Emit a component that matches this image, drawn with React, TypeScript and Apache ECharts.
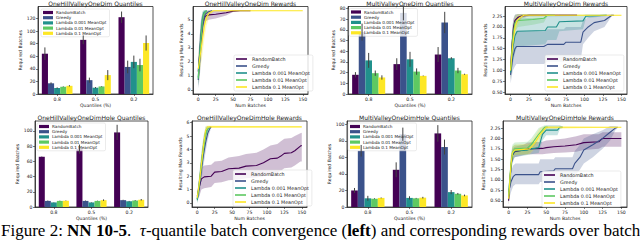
import React, { useEffect, useRef } from 'react';
import * as echarts from 'echarts';

const FONT = 'DejaVu Sans';
const METHODS = ['RandomBatch', 'Greedy', 'Lambda 0.001 MeanOpt', 'Lambda 0.01 MeanOpt', 'Lambda 0.1 MeanOpt'];
const COLORS = ['#440154', '#3b528b', '#21918c', '#5ec962', '#fde725'];
const QUANTILES = ['0.8', '0.5', '0.2'];
const REWARD_X_TICKS = [0, 25, 50, 75, 100, 125, 150];

// ---- Bar panels: mean and error per method (rows) and quantile (cols)
const ohvQuantMean = [[64, 86, 122], [17, 22, 43], [9.5, 10, 51], [11.5, 12, 46], [13, 30, 81]];
const ohvQuantErr = [[10, 7, 9], [1.5, 4, 10], [1, 1, 10], [0.5, 0.5, 10], [1, 8, 12]];
const ohvQuantTicks = [0, 20, 40, 60, 80, 100, 120];

const mvQuantMean = [[18, 28, 37], [58, 76, 67], [31.5, 32.5, 33.5], [19.5, 21, 22], [15.5, 17, 18.5]];
const mvQuantErr = [[2.5, 5.5, 7], [8, 7, 10], [7, 7, 1], [2.5, 3, 2.5], [2, 0.3, 0.5]];
const mvQuantTicks = [0, 10, 20, 30, 40, 50, 60, 70, 80];

const ohvhQuantMean = [[66, 76, 98], [8, 8, 9], [6, 6, 7.5], [8, 8, 8.5], [8.3, 9, 9.5]];
const ohvhQuantErr = [[0.3, 6, 10], [0.5, 0.5, 0.5], [0.3, 0.3, 0.5], [0.3, 0.3, 0.5], [0.3, 1, 1]];
const ohvhQuantTicks = [0, 20, 40, 60, 80, 100];

const mvhQuantMean = [[20, 45, 89], [68, 88, 72.5], [10.5, 11, 18], [10, 10.5, 16], [11, 11.3, 14]];
const mvhQuantErr = [[3, 9, 10], [7, 8, 9], [3, 2, 2.5], [0.5, 0.5, 1], [0.5, 1, 1]];
const mvhQuantTicks = [0, 20, 40, 60, 80, 100];

// ---- Reward panels: [numBatches, mean, lower, upper]
const ohvRandom = [[0, 1.3, 0.3, 2.3], [2, 2.5, 1.2, 3.8], [4, 3.8, 2.6, 5.0], [6, 4.6, 3.8, 5.4], [8, 5.0, 4.5, 5.5], [10, 5.25, 4.9, 5.6], [15, 5.35, 5.0, 5.65], [25, 5.4, 5.1, 5.68], [40, 5.5, 5.3, 5.68], [50, 5.62, 5.55, 5.68], [60, 5.65, 5.62, 5.68], [75, 5.65, 5.64, 5.66]];
const ohvGreedy = [[0, 0.7, 0.1, 1.4], [2, 2.0, 0.8, 3.2], [4, 3.3, 2.0, 4.5], [6, 4.4, 3.3, 5.3], [8, 5.0, 4.3, 5.6], [10, 5.4, 5.0, 5.68], [14, 5.55, 5.3, 5.68], [20, 5.65, 5.6, 5.68]];
const ohvL001 = [[0, 0.9, 0.3, 1.6], [2, 2.6, 1.5, 3.7], [4, 4.0, 3.0, 5.0], [6, 5.0, 4.3, 5.6], [8, 5.5, 5.2, 5.68], [12, 5.65, 5.6, 5.68]];
const ohvL01 = [[0, 0.8, 0.2, 1.5], [2, 2.3, 1.2, 3.4], [4, 3.7, 2.6, 4.8], [6, 4.8, 4.0, 5.5], [8, 5.4, 5.0, 5.68], [12, 5.65, 5.6, 5.68]];
const ohvL1 = [[0, 1.5, 0.6, 2.4], [3, 2.5, 1.5, 3.6], [6, 3.6, 2.5, 4.7], [9, 4.6, 3.7, 5.4], [12, 5.2, 4.6, 5.6], [16, 5.5, 5.2, 5.68], [22, 5.65, 5.6, 5.68], [150, 5.65, 5.65, 5.65]];
const ohvRewardTicks = [0, 1, 2, 3, 4, 5];

const mvRandom = [[0, 1.0, 0.8, 1.2], [2, 1.6, 1.3, 1.9], [4, 2.0, 1.8, 2.2], [6, 2.15, 2.0, 2.28], [10, 2.22, 2.12, 2.3], [15, 2.25, 2.2, 2.3], [25, 2.27, 2.24, 2.3], [90, 2.27, 2.25, 2.29]];
const mvGreedy = [[0, 0.9, 0.7, 1.1], [3, 1.3, 1.0, 1.6], [6, 1.5, 1.1, 1.85], [8, 1.55, 1.15, 1.9], [45, 1.55, 1.15, 1.9], [50, 1.6, 1.2, 1.95], [72, 1.6, 1.2, 1.95], [75, 1.65, 1.25, 2.0], [95, 1.65, 1.25, 2.0], [98, 1.88, 1.6, 2.15], [105, 2.0, 1.75, 2.22], [113, 2.1, 1.9, 2.27], [127, 2.15, 2.0, 2.28], [137, 2.27, 2.25, 2.29], [140, 2.27, 2.27, 2.27]];
const mvL001 = [[0, 0.95, 0.8, 1.1], [3, 1.5, 1.15, 1.85], [6, 1.8, 1.4, 2.15], [9, 1.9, 1.55, 2.2], [47, 1.92, 1.6, 2.22], [50, 2.0, 1.7, 2.25], [62, 2.0, 1.7, 2.25], [66, 2.12, 1.9, 2.28], [98, 2.14, 1.95, 2.28], [102, 2.25, 2.2, 2.29], [130, 2.27, 2.25, 2.29]];
const mvL01 = [[0, 1.0, 0.85, 1.15], [3, 1.8, 1.5, 2.1], [6, 2.1, 1.9, 2.28], [10, 2.15, 2.0, 2.3], [30, 2.17, 2.05, 2.3], [45, 2.2, 2.1, 2.3], [50, 2.27, 2.25, 2.29], [60, 2.27, 2.26, 2.28]];
const mvL1 = [[0, 1.0, 0.8, 1.2], [3, 1.6, 1.3, 1.9], [6, 2.0, 1.8, 2.2], [9, 2.15, 2.0, 2.28], [13, 2.22, 2.15, 2.29], [18, 2.27, 2.25, 2.29], [150, 2.27, 2.27, 2.27]];
const mvRewardTicks = [0.5, 0.75, 1.0, 1.25, 1.5, 1.75, 2.0, 2.25];

const ohvhRandom = [[0, 0.5, 0.2, 0.8], [3, 1.2, 0.5, 1.9], [6, 1.8, 1.0, 2.6], [10, 1.95, 1.1, 2.8], [20, 2.0, 1.2, 2.85], [25, 2.3, 1.5, 3.1], [35, 2.35, 1.55, 3.15], [45, 2.55, 1.7, 3.4], [60, 2.6, 1.75, 3.5], [70, 2.75, 1.85, 3.65], [85, 2.8, 1.9, 3.75], [95, 3.0, 2.0, 4.0], [105, 3.3, 2.2, 4.3], [115, 3.35, 2.25, 4.4], [120, 3.5, 2.4, 4.6], [125, 3.7, 2.6, 4.8], [135, 3.75, 2.65, 4.85], [140, 3.9, 2.8, 5.0], [148, 4.25, 3.1, 5.2], [150, 4.3, 3.1, 5.25]];
const ohvhGreedy = [[0, 0.3, 0.0, 0.6], [3, 1.2, 0.6, 1.8], [6, 2.5, 1.7, 3.3], [9, 3.6, 2.8, 4.4], [12, 4.5, 3.8, 5.2], [15, 5.2, 4.7, 5.6], [18, 5.55, 5.3, 5.75], [20, 5.68, 5.6, 5.75]];
const ohvhL001 = [[0, 0.2, 0.0, 0.5], [3, 1.5, 0.8, 2.2], [6, 3.0, 2.2, 3.8], [9, 4.3, 3.6, 5.0], [12, 5.3, 4.9, 5.7], [15, 5.68, 5.6, 5.75]];
const ohvhL01 = [[0, 0.3, 0.0, 0.6], [3, 1.4, 0.8, 2.0], [6, 2.8, 2.0, 3.6], [9, 4.0, 3.2, 4.8], [12, 5.0, 4.5, 5.5], [15, 5.5, 5.3, 5.7], [18, 5.68, 5.6, 5.75]];
const ohvhL1 = [[0, 0.4, 0.1, 0.7], [3, 1.5, 1.0, 2.0], [6, 2.9, 2.3, 3.5], [9, 4.3, 3.8, 4.8], [12, 5.4, 5.1, 5.75], [15, 5.68, 5.6, 5.78], [150, 5.68, 5.68, 5.68]];
const ohvhRewardTicks = [0, 1, 2, 3, 4, 5, 6];

const mvhRandom = [[0, 0.5, 0.4, 0.6], [3, 1.3, 1.1, 1.5], [5, 1.6, 1.45, 1.75], [8, 1.68, 1.55, 1.8], [20, 1.72, 1.6, 1.85], [25, 1.75, 1.62, 1.9], [45, 1.76, 1.62, 1.92], [50, 1.78, 1.63, 1.95], [60, 1.8, 1.65, 1.97], [75, 1.82, 1.66, 2.0], [90, 1.85, 1.68, 2.05], [100, 1.9, 1.72, 2.1], [120, 1.92, 1.75, 2.1], [125, 2.0, 1.8, 2.15], [150, 2.0, 1.8, 2.15]];
const mvhGreedy = [[0, 0.7, 0.5, 0.9], [3, 0.95, 0.7, 1.2], [6, 1.08, 0.85, 1.35], [9, 1.13, 0.9, 1.4], [40, 1.13, 0.9, 1.4], [42, 1.2, 0.95, 1.5], [60, 1.22, 0.95, 1.5], [62, 1.27, 1.0, 1.55], [85, 1.27, 1.0, 1.55], [88, 1.4, 1.1, 1.7], [95, 1.55, 1.25, 1.85], [100, 1.72, 1.4, 2.0], [112, 1.85, 1.55, 2.1], [125, 2.0, 1.75, 2.2], [135, 2.15, 1.95, 2.3], [142, 2.25, 2.2, 2.3], [145, 2.27, 2.25, 2.29]];
const mvhL001 = [[0, 0.6, 0.4, 0.8], [3, 1.3, 1.05, 1.55], [5, 1.6, 1.4, 1.8], [8, 1.7, 1.55, 1.85], [25, 1.72, 1.6, 1.85], [30, 1.75, 1.62, 1.9], [40, 1.78, 1.65, 1.92], [45, 2.1, 1.95, 2.25], [50, 2.2, 2.08, 2.32], [65, 2.2, 2.08, 2.32], [68, 2.27, 2.22, 2.32], [72, 2.27, 2.25, 2.29]];
const mvhL01 = [[0, 0.65, 0.45, 0.85], [3, 1.35, 1.1, 1.6], [5, 1.65, 1.45, 1.85], [8, 1.75, 1.6, 1.9], [25, 1.77, 1.62, 1.92], [30, 1.85, 1.7, 2.0], [40, 2.1, 1.95, 2.25], [48, 2.27, 2.2, 2.32], [52, 2.27, 2.25, 2.29]];
const mvhL1 = [[0, 0.55, 0.4, 0.7], [3, 1.35, 1.15, 1.55], [5, 1.65, 1.5, 1.8], [8, 1.72, 1.6, 1.85], [28, 1.75, 1.62, 1.88], [35, 1.9, 1.75, 2.05], [42, 2.1, 1.95, 2.25], [50, 2.27, 2.22, 2.3], [150, 2.27, 2.27, 2.27]];
const mvhRewardTicks = [0.5, 0.75, 1.0, 1.25, 1.5, 1.75, 2.0, 2.25];

const CAPTION = '{n|Figure 2: }{b|NN 10-5}{n|.  }{i|τ}{n|-quantile batch convergence (}{b|left}{n|) and corresponding rewards over batch}';

type Grid = { left: number; top: number; width: number; height: number };
type Panel = {
  kind: 'bar' | 'line';
  title: string;
  grid: Grid;
  yMin: number;
  yMax: number;
  yTicks: number[];
  decimals: number;
  means?: number[][];
  errs?: number[][];
  curves?: number[][][];
  legend: { left: number; top: number };
};

const PANELS: Panel[] = [
  { kind: 'bar', title: 'OneHillValleyOneDim Quantiles', grid: { left: 38, top: 6.5, width: 115, height: 87.5 }, yMin: 0, yMax: 139, yTicks: ohvQuantTicks, decimals: 0, means: ohvQuantMean, errs: ohvQuantErr, legend: { left: 41, top: 9 } },
  { kind: 'line', title: 'OneHillValleyOneDim Rewards', grid: { left: 193, top: 6.5, width: 115, height: 87.5 }, yMin: -0.3, yMax: 5.95, yTicks: ohvRewardTicks, decimals: 0, curves: [ohvRandom, ohvGreedy, ohvL001, ohvL01, ohvL1], legend: { left: 234, top: 55 } },
  { kind: 'bar', title: 'MultiValleyOneDim Quantiles', grid: { left: 348, top: 6.5, width: 124, height: 87.5 }, yMin: 0, yMax: 82, yTicks: mvQuantTicks, decimals: 0, means: mvQuantMean, errs: mvQuantErr, legend: { left: 349, top: 8.5 } },
  { kind: 'line', title: 'MultiValleyOneDim Rewards', grid: { left: 505, top: 6.5, width: 122, height: 87.5 }, yMin: 0.46, yMax: 2.47, yTicks: mvRewardTicks, decimals: 2, curves: [mvRandom, mvGreedy, mvL001, mvL01, mvL1], legend: { left: 545, top: 55 } },
  { kind: 'bar', title: 'OneHillValleyOneDimHole Quantiles', grid: { left: 35, top: 121, width: 113, height: 86 }, yMin: 0, yMax: 113, yTicks: ohvhQuantTicks, decimals: 0, means: ohvhQuantMean, errs: ohvhQuantErr, legend: { left: 37, top: 123 } },
  { kind: 'line', title: 'OneHillValleyOneDimHole Rewards', grid: { left: 192, top: 121, width: 115, height: 86 }, yMin: -0.3, yMax: 6.12, yTicks: ohvhRewardTicks, decimals: 0, curves: [ohvhRandom, ohvhGreedy, ohvhL001, ohvhL01, ohvhL1], legend: { left: 233, top: 170 } },
  { kind: 'bar', title: 'MultiValleyOneDimHole Quantiles', grid: { left: 347, top: 121, width: 125, height: 86 }, yMin: 0, yMax: 104, yTicks: mvhQuantTicks, decimals: 0, means: mvhQuantMean, errs: mvhQuantErr, legend: { left: 348, top: 123 } },
  { kind: 'line', title: 'MultiValleyOneDimHole Rewards', grid: { left: 503, top: 121, width: 124, height: 86 }, yMin: 0.35, yMax: 2.42, yTicks: mvhRewardTicks, decimals: 2, curves: [mvhRandom, mvhGreedy, mvhL001, mvhL01, mvhL1], legend: { left: 542, top: 171 } },
];

const INK = '#262626';

function rgba(hex: string, a: number) {
  const n = parseInt(hex.slice(1), 16);
  return `rgba(${(n >> 16) & 255},${(n >> 8) & 255},${n & 255},${a})`;
}

function tickFormatter(ticks: number[], decimals: number) {
  return (v: number) => (ticks.some((t) => Math.abs(t - v) < 1e-6) ? v.toFixed(decimals) : '');
}

function buildOption() {
  const grid: any[] = [];
  const xAxis: any[] = [];
  const yAxis: any[] = [];
  const series: any[] = [];
  const legend: any[] = [];
  const title: any[] = [];

  PANELS.forEach((p, i) => {
    grid.push({ ...p.grid, show: true, borderColor: INK, borderWidth: 0.8, backgroundColor: 'transparent' });
    title.push({
      text: p.title,
      left: p.grid.left + p.grid.width / 2,
      top: Math.max(0.5, p.grid.top - 7),
      textAlign: 'center',
      padding: 0,
      textStyle: { fontSize: 6, fontWeight: 'normal', fontFamily: FONT, color: '#222' },
    });
    const axisCommon = {
      gridIndex: i,
      nameLocation: 'middle',
      nameTextStyle: { fontSize: 4.6, fontFamily: FONT, color: '#222' },
      axisLine: { show: true, onZero: false, lineStyle: { color: INK, width: 0.8 } },
      axisTick: { show: true, length: 2, lineStyle: { color: INK, width: 0.6 } },
      splitLine: { show: false },
    };
    if (p.kind === 'bar') {
      xAxis.push({
        ...axisCommon,
        type: 'category',
        data: QUANTILES,
        name: 'Quantiles (%)',
        nameGap: 8,
        axisTick: { ...axisCommon.axisTick, alignWithLabel: true },
        axisLabel: { fontSize: 4.6, fontFamily: FONT, color: '#222', margin: 3 },
      });
      yAxis.push({
        ...axisCommon,
        type: 'value',
        min: p.yMin,
        max: p.yMax,
        interval: p.yTicks[1] - p.yTicks[0],
        name: 'Required Batches',
        nameGap: 12,
        axisLabel: { fontSize: 4.6, fontFamily: FONT, color: '#222', margin: 2.5, formatter: tickFormatter(p.yTicks, p.decimals), showMaxLabel: false },
      });
      p.means!.forEach((m, k) => {
        series.push({
          type: 'bar',
          name: METHODS[k],
          xAxisIndex: i,
          yAxisIndex: i,
          data: m,
          itemStyle: { color: COLORS[k] },
          barGap: '0%',
          barCategoryGap: '20%',
          silent: true,
        });
      });
      const errData: number[][] = [];
      p.means!.forEach((m, k) => m.forEach((v, q) => errData.push([q, v, k, p.errs![k][q]])));
      series.push({
        type: 'custom',
        xAxisIndex: i,
        yAxisIndex: i,
        silent: true,
        z: 5,
        data: errData,
        encode: { x: 0, y: 1 },
        renderItem: (_params: any, api: any) => {
          const q = api.value(0);
          const v = api.value(1);
          const k = api.value(2);
          const e = api.value(3);
          const band = api.size([1, 0])[0];
          const bw = (band * 0.8) / 5;
          const c = api.coord([q, v]);
          const x = c[0] - band * 0.4 + bw * (k + 0.5);
          const y1 = api.coord([q, v + e])[1];
          const y2 = api.coord([q, v - e])[1];
          return { type: 'line', shape: { x1: x, y1, x2: x, y2 }, style: { stroke: '#424242', lineWidth: 1 } };
        },
      });
      legend.push({
        data: METHODS,
        orient: 'vertical',
        left: p.legend.left,
        top: p.legend.top,
        icon: 'rect',
        itemWidth: 10,
        itemHeight: 3.2,
        itemGap: 1.2,
        selectedMode: false,
        padding: [1.5, 3, 1.5, 2],
        backgroundColor: 'rgba(255,255,255,0.8)',
        borderColor: '#d6d6d6',
        borderWidth: 0.5,
        borderRadius: 1.5,
        textStyle: { fontSize: 4.2, fontFamily: FONT, color: '#222', padding: [0, 0, 0, -2] },
      });
    } else {
      xAxis.push({
        ...axisCommon,
        type: 'value',
        min: -7.5,
        max: 157.5,
        minInterval: 25,
        maxInterval: 25,
        name: 'Num Batches',
        nameGap: 8,
        axisLabel: { fontSize: 4.6, fontFamily: FONT, color: '#222', margin: 3, formatter: tickFormatter(REWARD_X_TICKS, 0), showMinLabel: false, showMaxLabel: false },
      });
      const step = p.yTicks[1] - p.yTicks[0];
      yAxis.push({
        ...axisCommon,
        type: 'value',
        min: p.yMin,
        max: p.yMax,
        minInterval: step,
        maxInterval: step,
        name: 'Resulting Max Rewards',
        nameGap: p.decimals ? 14 : 9,
        axisLabel: { fontSize: 4.6, fontFamily: FONT, color: '#222', margin: 2.5, formatter: tickFormatter(p.yTicks, p.decimals), showMinLabel: false, showMaxLabel: false },
      });
      p.curves!.forEach((curve, k) => {
        series.push({
          type: 'custom',
          xAxisIndex: i,
          yAxisIndex: i,
          silent: true,
          z: 1,
          clip: true,
          data: [[curve[0][0], curve[0][1]]],
          renderItem: (_params: any, api: any) => {
            const pts: number[][] = [];
            for (const pt of curve) pts.push(api.coord([pt[0], pt[3]]));
            for (let j = curve.length - 1; j >= 0; j--) pts.push(api.coord([curve[j][0], curve[j][2]]));
            return { type: 'polygon', shape: { points: pts }, style: { fill: rgba(COLORS[k], 0.25) } };
          },
        });
      });
      p.curves!.forEach((curve, k) => {
        series.push({
          type: 'line',
          name: METHODS[k],
          xAxisIndex: i,
          yAxisIndex: i,
          data: curve.map((pt) => [pt[0], pt[1]]),
          showSymbol: false,
          symbol: 'none',
          silent: true,
          z: 3,
          lineStyle: { color: COLORS[k], width: 1.1 },
          itemStyle: { color: COLORS[k] },
        });
      });
      legend.push({
        data: METHODS,
        orient: 'vertical',
        left: p.legend.left,
        top: p.legend.top,
        icon: 'rect',
        itemWidth: 11,
        itemHeight: 1.6,
        itemGap: 2,
        selectedMode: false,
        padding: [1.5, 3, 1.5, 2],
        backgroundColor: 'rgba(255,255,255,0.8)',
        borderColor: '#d6d6d6',
        borderWidth: 0.5,
        borderRadius: 1.5,
        textStyle: { fontSize: 4.8, fontFamily: FONT, color: '#222' },
      });
    }
  });

  title.push({
    text: CAPTION,
    left: 1,
    top: 222,
    padding: 0,
    textStyle: {
      fontWeight: 'normal',
      fontSize: 17,
      fontFamily: 'Liberation Serif',
      rich: {
        n: { fontSize: 17, fontFamily: 'Liberation Serif', fontWeight: 'normal', color: '#000' },
        b: { fontSize: 17, fontFamily: 'Liberation Serif', fontWeight: 'bold', color: '#000' },
        i: { fontSize: 17, fontFamily: 'Liberation Serif', fontWeight: 'normal', fontStyle: 'italic', color: '#000' },
      },
    },
  });

  return { animation: false, backgroundColor: '#fff', title, grid, xAxis, yAxis, legend, series };
}

export default function App() {
  const ref = useRef<HTMLDivElement>(null);
  useEffect(() => {
    document.body.style.margin = '0';
    const chart = echarts.init(ref.current!, undefined, { renderer: 'svg' });
    chart.setOption(buildOption() as any);
    return () => chart.dispose();
  }, []);
  return <div ref={ref} style={{ width: 640, height: 240 }} />;
}
